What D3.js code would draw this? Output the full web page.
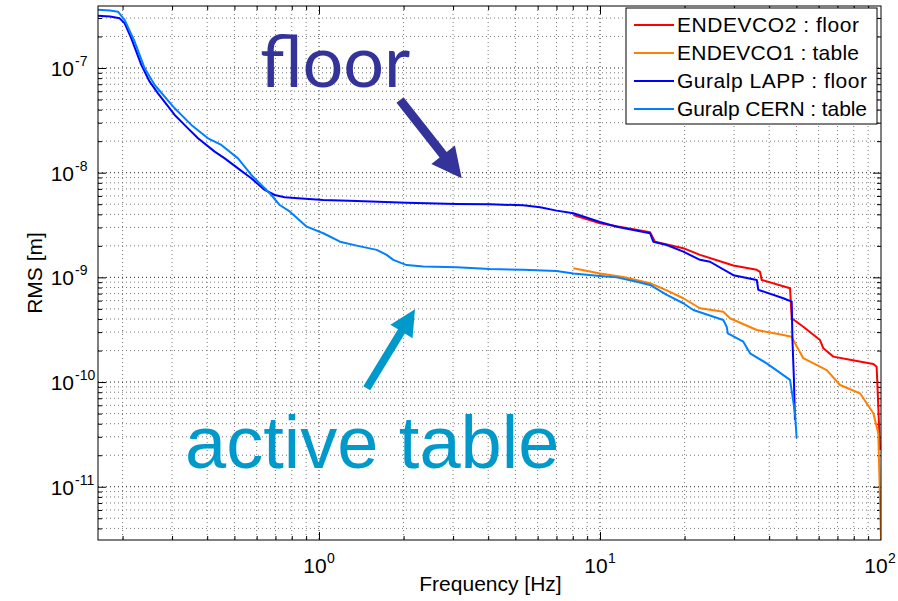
<!DOCTYPE html>
<html>
<head>
<meta charset="utf-8">
<script src="https://cdn.jsdelivr.net/npm/d3@7"></script>
<style>
body { margin: 0; background: #fff; }
svg text { font-family: "Liberation Sans", Arial, sans-serif; fill: #000; }
</style>
</head>
<body>
<div class="rms"></div>
<script>
// RMS displacement curves
var endevco2Freq = [8.04, 10.0, 15.07, 15.69, 19.79, 22.69, 29.82, 36.13, 37.1, 37.62, 47.46, 48.11, 52.9, 60.66, 62.34, 67.65, 77.6, 93.9, 96.5, 97.6, 99.2];
var endevco2Rms = [3.94e-9, 3.29e-9, 2.70e-9, 2.19e-9, 1.90e-9, 1.64e-9, 1.30e-9, 1.18e-9, 1.13e-9, 9.45e-10, 7.87e-10, 4.07e-10, 3.38e-10, 2.52e-10, 2.10e-10, 1.75e-10, 1.63e-10, 1.49e-10, 1.40e-10, 6.75e-11, 2.25e-11];

var endevco1Freq = [8.04, 10.0, 12.1, 15.07, 17.28, 19.79, 22.69, 27.47, 29.0, 36.13, 44.9, 48.11, 49.43, 52.9, 64.1, 71.5, 84.2, 93.9, 97.8, 99.2, 100];
var endevco1Rms = [1.22e-9, 1.09e-9, 1.01e-9, 8.78e-10, 7.50e-10, 6.32e-10, 5.07e-10, 4.70e-10, 4.07e-10, 3.14e-10, 2.82e-10, 2.71e-10, 2.35e-10, 1.69e-10, 1.30e-10, 9.38e-11, 7.81e-11, 5.04e-11, 3.24e-11, 7.48e-12, 3.1e-12];

var lappFreq = [0.1635, 0.1804, 0.1953, 0.2035, 0.2148, 0.2331, 0.2497, 0.2673, 0.3065, 0.3418, 0.371, 0.4254, 0.4618, 0.5149, 0.5741, 0.6408, 0.6956, 0.755, 0.842, 1.036, 1.362, 2.051, 3.09, 4.06, 5.33, 6.12, 7.01, 8.04, 10.0, 11.47, 15.07, 15.48, 17.28, 19.79, 22.69, 24.63, 29.82, 36.13, 36.6, 37.62, 44.9, 48.11, 48.4, 49.0, 49.4];
var lappRms = [3.16e-7, 3.10e-7, 2.98e-7, 2.67e-7, 1.92e-7, 1.07e-7, 7.40e-8, 5.73e-8, 3.56e-8, 2.65e-8, 2.13e-8, 1.59e-8, 1.37e-8, 1.10e-8, 8.84e-9, 6.84e-9, 6.12e-9, 5.82e-9, 5.69e-9, 5.49e-9, 5.37e-9, 5.17e-9, 5.02e-9, 4.99e-9, 4.88e-9, 4.67e-9, 4.34e-9, 4.10e-9, 3.38e-9, 3.05e-9, 2.64e-9, 2.19e-9, 2.04e-9, 1.76e-9, 1.47e-9, 1.41e-9, 1.05e-9, 9.45e-10, 7.60e-10, 7.42e-10, 6.32e-10, 5.86e-10, 2.52e-10, 1.05e-10, 4.35e-11];

var cernFreq = [0.1635, 0.1804, 0.1926, 0.2035, 0.2209, 0.2397, 0.2602, 0.3065, 0.3512, 0.4027, 0.4492, 0.5149, 0.5741, 0.6408, 0.6766, 0.7246, 0.7884, 0.9043, 1.036, 1.188, 1.362, 1.604, 1.741, 1.838, 2.051, 2.35, 3.09, 4.06, 5.33, 7.01, 8.04, 10.0, 11.47, 13.51, 15.07, 17.28, 19.79, 21.48, 27.47, 28.24, 28.5, 32.36, 34.19, 39.19, 47.46, 49.43, 50.1];
var cernRms = [3.60e-7, 3.54e-7, 3.45e-7, 2.87e-7, 1.78e-7, 9.93e-8, 6.88e-8, 4.12e-8, 2.86e-8, 2.13e-8, 1.84e-8, 1.37e-8, 9.51e-9, 7.10e-9, 6.12e-9, 4.91e-9, 4.24e-9, 3.05e-9, 2.64e-9, 2.19e-9, 2.01e-9, 1.83e-9, 1.64e-9, 1.47e-9, 1.31e-9, 1.27e-9, 1.25e-9, 1.20e-9, 1.18e-9, 1.15e-9, 1.09e-9, 1.03e-9, 1.00e-9, 9.10e-10, 8.46e-10, 6.79e-10, 5.66e-10, 4.88e-10, 3.92e-10, 3.38e-10, 2.92e-10, 2.43e-10, 1.88e-10, 1.51e-10, 1.05e-10, 5.04e-11, 2.90e-11];

var seriesNames = ["ENDEVCO2 : floor", "ENDEVCO1 : table", "Guralp LAPP : floor", "Guralp CERN : table"];
var seriesColors = ["#ff0000", "#ff8000", "#0000ff", "#0080ff"];

var xLimits = [0.1635, 100];
var yLimits = [3.1e-12, 3.91e-7];
var xTickExp = [0, 1, 2];
var yTickExp = [-11, -10, -9, -8, -7];

var margin = { top: 6, right: 17, bottom: 61, left: 98 },
    width = 898 - margin.left - margin.right,
    height = 601 - margin.top - margin.bottom;

var svg = d3.select('.rms')
    .append('svg')
    .attr('width', width + margin.left + margin.right)
    .attr('height', height + margin.top + margin.bottom);

var g = svg.append('g')
    .attr('transform', 'translate(' + margin.left + ',' + margin.top + ')');

var x = d3.scaleLog().domain(xLimits).range([0, width]);
var y = d3.scaleLog().domain(yLimits).range([height, 0]);

function isMajor(t) {
    var l = Math.log10(t);
    return Math.abs(l - Math.round(l)) < 1e-6;
}

var xAll = x.ticks().filter(function(t) { return t >= xLimits[0] && t < xLimits[1]; });
var yAll = y.ticks().filter(function(t) { return t >= yLimits[0] && t <= yLimits[1]; });
var xMajor = xAll.filter(isMajor), xMinor = xAll.filter(function(t) { return !isMajor(t); });
var yMajor = yAll.filter(isMajor), yMinor = yAll.filter(function(t) { return !isMajor(t); });

// dotted grid
g.append('g').selectAll('line')
    .data(xAll)
    .enter()
    .append('line')
    .attr('x1', function(d) { return x(d); })
    .attr('x2', function(d) { return x(d); })
    .attr('y1', 0)
    .attr('y2', height)
    .attr('stroke', function(d) { return isMajor(d) ? '#222' : '#777'; })
    .attr('stroke-dasharray', '1,3');

g.append('g').selectAll('line')
    .data(yAll)
    .enter()
    .append('line')
    .attr('y1', function(d) { return y(d); })
    .attr('y2', function(d) { return y(d); })
    .attr('x1', 0)
    .attr('x2', width)
    .attr('stroke', function(d) { return isMajor(d) ? '#222' : '#777'; })
    .attr('stroke-dasharray', '1,3');

// inward ticks on the four sides
function tickAxis(axisFn, scale, values, size, transform) {
    g.append('g')
        .attr('transform', transform)
        .call(axisFn(scale).tickValues(values).tickSize(-size).tickFormat(''))
        .call(function(s) { s.select('.domain').remove(); })
        .selectAll('line').attr('stroke', '#000');
}
tickAxis(d3.axisBottom, x, xMajor, 8, 'translate(0,' + height + ')');
tickAxis(d3.axisBottom, x, xMinor, 4, 'translate(0,' + height + ')');
tickAxis(d3.axisTop, x, xMajor, 8, 'translate(0,0)');
tickAxis(d3.axisTop, x, xMinor, 4, 'translate(0,0)');
tickAxis(d3.axisLeft, y, yMajor, 8, 'translate(0,0)');
tickAxis(d3.axisLeft, y, yMinor, 4, 'translate(0,0)');
tickAxis(d3.axisRight, y, yMajor, 8, 'translate(' + width + ',0)');
tickAxis(d3.axisRight, y, yMinor, 4, 'translate(' + width + ',0)');

// curves
g.append('clipPath').attr('id', 'plotClip')
    .append('rect').attr('width', width).attr('height', height);

var line = d3.line()
    .x(function(d) { return x(d[0]); })
    .y(function(d) { return y(d[1]); });

var curves = [
    d3.zip(endevco2Freq, endevco2Rms),
    d3.zip(endevco1Freq, endevco1Rms),
    d3.zip(lappFreq, lappRms),
    d3.zip(cernFreq, cernRms)
];

g.append('g')
    .attr('clip-path', 'url(#plotClip)')
    .selectAll('path')
    .data(curves)
    .enter()
    .append('path')
    .attr('d', line)
    .attr('fill', 'none')
    .attr('stroke-width', 2)
    .attr('stroke-linejoin', 'round')
    .attr('stroke', function(d, i) { return seriesColors[i]; });

// frame
g.append('rect')
    .attr('width', width)
    .attr('height', height)
    .attr('fill', 'none')
    .attr('stroke', '#000');

// tick labels 10^n, the last one pulled in so it stays on the page
var xLab = g.append('g').selectAll('g')
    .data(xTickExp)
    .enter()
    .append('g')
    .attr('transform', function(d) {
        var px = x(Math.pow(10, d));
        var shift = Math.min(-4, width + margin.right - 22 - px);
        return 'translate(' + (px + shift) + ',' + (height + 33) + ')';
    });
xLab.append('text').attr('text-anchor', 'middle').attr('font-size', 21).text('10');
xLab.append('text').attr('x', 12).attr('y', -10).attr('font-size', 14).text(function(d) { return d; });

var yLab = g.append('g').selectAll('g')
    .data(yTickExp)
    .enter()
    .append('g')
    .attr('transform', function(d) { return 'translate(-24,' + (y(Math.pow(10, d)) + 8) + ')'; });
yLab.append('text').attr('text-anchor', 'end').attr('font-size', 21).text('10');
yLab.append('text').attr('x', 1).attr('y', -10).attr('font-size', 14).text(function(d) { return '-' + Math.abs(d); });

g.append('text')
    .attr('x', width / 2 + 1)
    .attr('y', height + 51)
    .attr('text-anchor', 'middle')
    .attr('font-size', 21)
    .text('Frequency [Hz]');

g.append('text')
    .attr('transform', 'translate(-56,' + (height / 2) + ') rotate(-90)')
    .attr('text-anchor', 'middle')
    .attr('font-size', 21)
    .text('RMS [m]');

// legend
var legend = g.append('g').attr('transform', 'translate(' + (width - 255) + ',2)');
legend.append('rect')
    .attr('width', 251)
    .attr('height', 116)
    .attr('fill', '#fff')
    .attr('stroke', '#000');
var rows = legend.selectAll('g.row')
    .data(seriesNames)
    .enter()
    .append('g')
    .attr('class', 'row')
    .attr('transform', function(d, i) { return 'translate(0,' + (17 + i * 28) + ')'; });
rows.append('line')
    .attr('x1', 8).attr('x2', 48)
    .attr('stroke-width', 2)
    .attr('stroke', function(d, i) { return seriesColors[i]; });
rows.append('text')
    .attr('x', 51)
    .attr('y', 7)
    .attr('font-size', 21)
    .attr('textLength', function(d) { return d.length > 17 ? 190 : 182; })
    .text(function(d) { return d; });

// annotations placed in data coordinates
var notes = [
    { text: 'floor', f: 0.6166, v: 6.59e-8, color: '#333399', size: 72, font: 'Lato, "Open Sans", sans-serif' },
    { text: 'active table', f: 0.3335, v: 1.51e-11, color: '#0099cc', size: 74, font: '"Liberation Sans", Arial, sans-serif' }
];
var arrows = [
    { from: [1.942, 4.95e-8], to: [3.22, 8.84e-9], color: '#333399', w: 9, hl: 30, hw: 15 },
    { from: [1.479, 8.72e-11], to: [2.196, 4.96e-10], color: '#0099cc', w: 8, hl: 26, hw: 13 }
];

g.selectAll('text.note')
    .data(notes)
    .enter()
    .append('text')
    .attr('class', 'note')
    .attr('x', function(d) { return x(d.f); })
    .attr('y', function(d) { return y(d.v); })
    .attr('font-size', function(d) { return d.size; })
    .style('font-family', function(d) { return d.font; })
    .style('fill', function(d) { return d.color; })
    .text(function(d) { return d.text; });

function arrowPath(d) {
    var x0 = x(d.from[0]), y0 = y(d.from[1]), x1 = x(d.to[0]), y1 = y(d.to[1]);
    var len = Math.sqrt((x1 - x0) * (x1 - x0) + (y1 - y0) * (y1 - y0));
    var ux = (x1 - x0) / len, uy = (y1 - y0) / len, px = -uy, py = ux;
    var bx = x1 - ux * d.hl, by = y1 - uy * d.hl;
    var pts = [
        [x0 + px * d.w / 2, y0 + py * d.w / 2],
        [bx + px * d.w / 2, by + py * d.w / 2],
        [bx + px * d.hw, by + py * d.hw],
        [x1, y1],
        [bx - px * d.hw, by - py * d.hw],
        [bx - px * d.w / 2, by - py * d.w / 2],
        [x0 - px * d.w / 2, y0 - py * d.w / 2]
    ];
    return 'M' + pts.join('L') + 'Z';
}

g.selectAll('path.arrow')
    .data(arrows)
    .enter()
    .append('path')
    .attr('class', 'arrow')
    .attr('d', arrowPath)
    .attr('fill', function(d) { return d.color; });
</script>
</body>
</html>
